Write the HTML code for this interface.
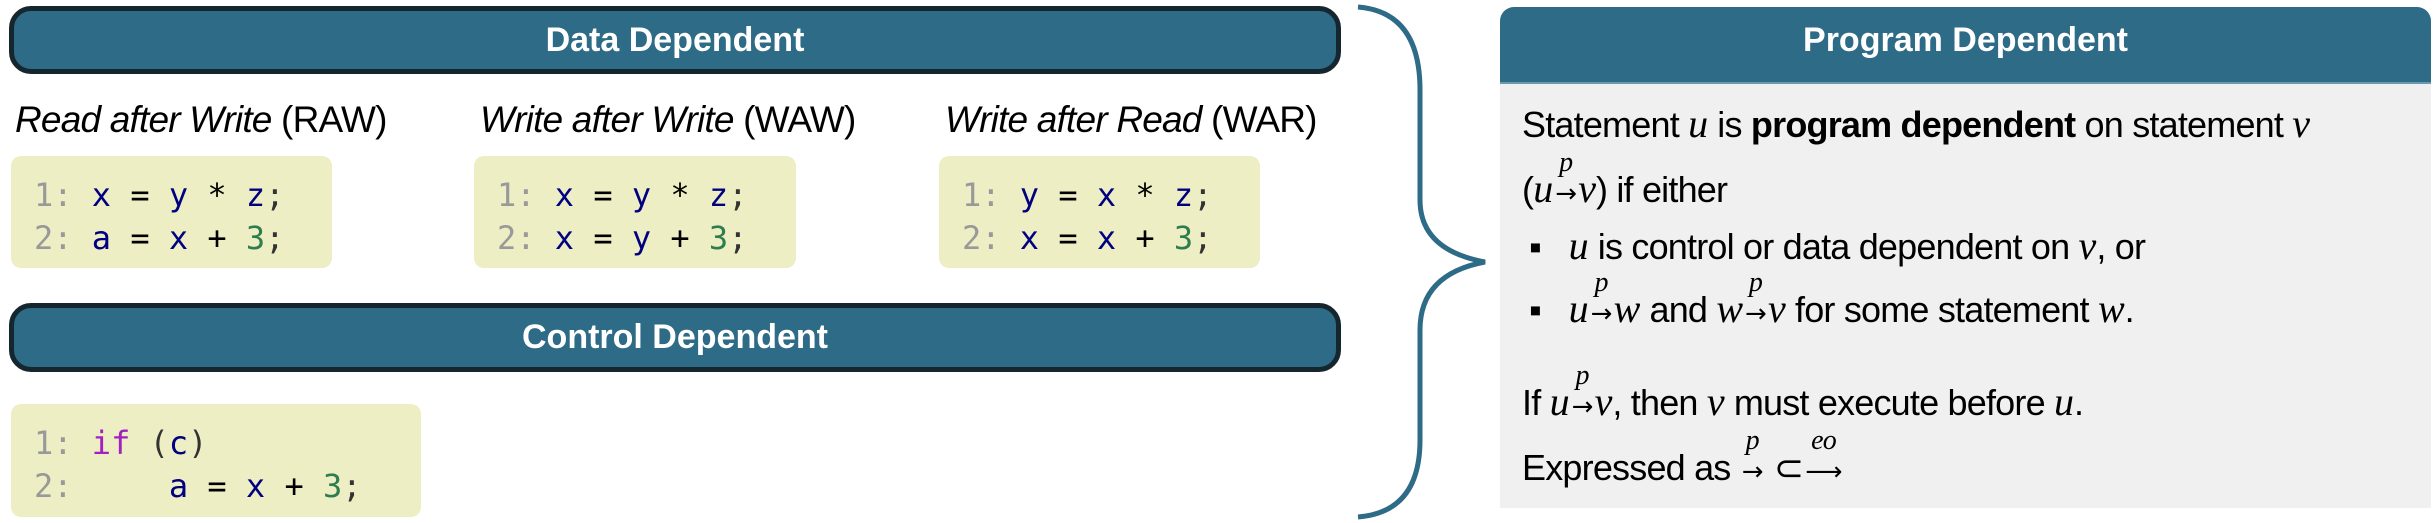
<!DOCTYPE html>
<html><head><meta charset="utf-8"><style>
body{margin:0;width:2435px;height:523px;background:#fff;position:relative;overflow:hidden;font-family:"Liberation Sans",sans-serif}
.bar{position:absolute;background:#2e6b87;border:5px solid #15262f;border-radius:22px;box-sizing:border-box;color:#fff;font-weight:bold;font-size:34px;text-align:center}
.h{position:absolute;font-size:37px;white-space:nowrap;letter-spacing:-0.8px}
.code{position:absolute;background:#eeeec4;border-radius:10px}
.ln{position:absolute;left:23px;font-family:"DejaVu Sans Mono","Liberation Mono",monospace;font-size:32px;white-space:pre;color:#000}
.g{color:#999}.v{color:#000080}.n{color:#2e7d4f}.k{color:#a020c0}.s{color:#333}
.t{position:absolute;font-size:36px;white-space:nowrap;letter-spacing:-0.8px;color:#000}
.m{font-family:"Liberation Serif",serif;font-style:italic;letter-spacing:0;font-size:40px}
.ar{display:inline-block;position:relative;font-family:"DejaVu Sans",sans-serif;font-size:26px;font-style:normal;margin:0 2px}
.ar sup{position:absolute;left:50%;transform:translateX(-50%);top:-32px;font-family:"Liberation Serif",serif;font-style:italic;font-size:28px}
</style></head><body>
<div class="bar" style="left:9px;top:6px;width:1332px;height:68px;line-height:58px">Data Dependent</div>
<div class="h" style="left:15px;top:99px"><i>Read after Write</i> (RAW)</div>
<div class="h" style="left:480px;top:99px"><i>Write after Write</i> (WAW)</div>
<div class="h" style="left:945px;top:99px"><i>Write after Read</i> (WAR)</div>
<div class="code" style="left:11px;top:156px;width:321px;height:112px">
<div class="ln" style="top:20px"><span class="g">1:</span> <span class="v">x</span> = <span class="v">y</span> * <span class="v">z</span><span class="s">;</span></div>
<div class="ln" style="top:63px"><span class="g">2:</span> <span class="v">a</span> = <span class="v">x</span> + <span class="n">3</span><span class="s">;</span></div></div>
<div class="code" style="left:474px;top:156px;width:322px;height:112px">
<div class="ln" style="top:20px"><span class="g">1:</span> <span class="v">x</span> = <span class="v">y</span> * <span class="v">z</span><span class="s">;</span></div>
<div class="ln" style="top:63px"><span class="g">2:</span> <span class="v">x</span> = <span class="v">y</span> + <span class="n">3</span><span class="s">;</span></div></div>
<div class="code" style="left:939px;top:156px;width:321px;height:112px">
<div class="ln" style="top:20px"><span class="g">1:</span> <span class="v">y</span> = <span class="v">x</span> * <span class="v">z</span><span class="s">;</span></div>
<div class="ln" style="top:63px"><span class="g">2:</span> <span class="v">x</span> = <span class="v">x</span> + <span class="n">3</span><span class="s">;</span></div></div>
<div class="bar" style="left:9px;top:303px;width:1332px;height:69px;line-height:59px">Control Dependent</div>
<div class="code" style="left:11px;top:404px;width:410px;height:113px">
<div class="ln" style="top:20px"><span class="g">1:</span> <span class="k">if</span> <span class="s">(</span><span class="v">c</span><span class="s">)</span></div>
<div class="ln" style="top:63px"><span class="g">2:</span>     <span class="v">a</span> = <span class="v">x</span> + <span class="n">3</span><span class="s">;</span></div></div>
<svg style="position:absolute;left:1350px;top:0" width="150" height="523"><path d="M8 7 Q70 12 70 90 L70 200 Q70 250 135 262 Q70 274 70 330 L70 440 Q70 512 8 517" fill="none" stroke="#2e6b87" stroke-width="5"/></svg>
<div style="position:absolute;left:1500px;top:7px;width:931px;height:501px;background:#f0f0f0;border-radius:14px 14px 0 0;overflow:hidden">
<div style="height:75px;background:#2e6b87;color:#fff;font-weight:bold;font-size:34px;text-align:center;line-height:66px;border-bottom:2px solid #6a9ab0">Program Dependent</div></div>
<div class="t" style="left:1522px;top:100px">Statement <span class="m">u</span> is <b>program dependent</b> on statement <span class="m">v</span></div>
<div class="t" style="left:1522px;top:165px">(<span class="m">u</span><span class="ar"><sup>p</sup>→</span><span class="m">v</span>) if either</div>
<div class="t" style="left:1529px;top:222px">▪&nbsp;&nbsp;&nbsp;<span class="m">u</span> is control or data dependent on <span class="m">v</span>, or</div>
<div class="t" style="left:1529px;top:285px">▪&nbsp;&nbsp;&nbsp;<span class="m">u</span><span class="ar"><sup>p</sup>→</span><span class="m">w</span> and <span class="m">w</span><span class="ar"><sup>p</sup>→</span><span class="m">v</span> for some statement <span class="m">w</span>.</div>
<div class="t" style="left:1522px;top:378px">If <span class="m">u</span><span class="ar"><sup>p</sup>→</span><span class="m">v</span>, then <span class="m">v</span> must execute before <span class="m">u</span>.</div>
<div class="t" style="left:1522px;top:447px">Expressed as <span class="ar"><sup>p</sup>→</span> ⊂<span class="ar"><sup>eo</sup>⟶</span></div>
</body></html>
